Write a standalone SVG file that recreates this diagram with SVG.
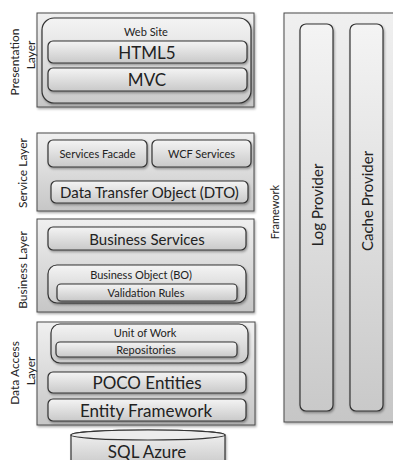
<svg xmlns="http://www.w3.org/2000/svg" width="393" height="460" viewBox="0 0 393 460">
  <defs>
    <linearGradient id="gLayer" x1="0" y1="0" x2="0" y2="1">
      <stop offset="0" stop-color="#f0f0f0"/>
      <stop offset="1" stop-color="#c6c6c6"/>
    </linearGradient>
    <linearGradient id="gBox" x1="0" y1="0" x2="0" y2="1">
      <stop offset="0" stop-color="#f4f4f4"/>
      <stop offset="1" stop-color="#c9c9c9"/>
    </linearGradient>
    <filter id="shadow" x="-10%" y="-10%" width="120%" height="130%">
      <feDropShadow dx="1" dy="1.5" stdDeviation="1" flood-color="#000" flood-opacity="0.35"/>
    </filter>
    <style>
      .layer { fill: url(#gLayer); stroke: #4a4a4a; stroke-width: 1; filter: url(#shadow); }
      .box { fill: url(#gBox); stroke: #333; stroke-width: 1.2; filter: url(#shadow); }
      text { font-family: Lato, "Open Sans", "Liberation Sans", sans-serif; fill: #222; text-anchor: middle; dominant-baseline: central; }
      .side { font-size: 12px; }
      .big { font-size: 17px; }
      .mid { font-size: 15px; }
      .sm { font-size: 11px; }
    </style>
  </defs>

  <!-- Presentation layer -->
  <g id="presentation-layer">
    <rect class="layer" x="37" y="13" width="217" height="94"/>
    <text class="side" transform="translate(14,62) rotate(-90)">Presentation</text>
    <text class="side" transform="translate(30,55) rotate(-90)">Layer</text>
  </g>
  <g id="web-site">
    <rect class="box" x="42" y="18" width="209" height="85" rx="12"/>
    <text class="sm" x="146" y="31">Web Site</text>
  </g>
  <g id="html5">
    <rect class="box" x="48" y="41" width="199" height="22" rx="5"/>
    <text class="big" x="147" y="52">HTML5</text>
  </g>
  <g id="mvc">
    <rect class="box" x="48" y="68" width="199" height="23" rx="5"/>
    <text class="big" x="147" y="79.5">MVC</text>
  </g>

  <!-- Service layer -->
  <g id="service-layer">
    <rect class="layer" x="37" y="133" width="217" height="78"/>
    <text class="side" transform="translate(22,173) rotate(-90)">Service Layer</text>
  </g>
  <g id="services-facade">
    <rect class="box" x="48" y="140" width="99" height="27" rx="5"/>
    <text class="sm" x="97.5" y="153.5">Services Facade</text>
  </g>
  <g id="wcf-services">
    <rect class="box" x="152" y="140" width="99" height="27" rx="5"/>
    <text class="sm" x="201.5" y="153.5">WCF Services</text>
  </g>
  <g id="dto">
    <rect class="box" x="51" y="181" width="197" height="22" rx="5"/>
    <text class="mid" x="149.5" y="192">Data Transfer Object (DTO)</text>
  </g>

  <!-- Business layer -->
  <g id="business-layer">
    <rect class="layer" x="37" y="219" width="217" height="93"/>
    <text class="side" transform="translate(22,270) rotate(-90)">Business Layer</text>
  </g>
  <g id="business-services">
    <rect class="box" x="48" y="227" width="198" height="23" rx="5"/>
    <text class="mid" x="147" y="238.5">Business Services</text>
  </g>
  <g id="business-object">
    <rect class="box" x="48" y="265" width="198" height="38" rx="9"/>
    <text class="sm" x="141" y="274">Business Object (BO)</text>
  </g>
  <g id="validation-rules">
    <rect class="box" x="57" y="284" width="180" height="17" rx="4"/>
    <text class="sm" x="146" y="292.5">Validation Rules</text>
  </g>

  <!-- Data access layer -->
  <g id="data-access-layer">
    <rect class="layer" x="37" y="322" width="218" height="103"/>
    <text class="side" transform="translate(14,373) rotate(-90)">Data Access</text>
    <text class="side" transform="translate(30,371) rotate(-90)">Layer</text>
  </g>
  <g id="unit-of-work">
    <rect class="box" x="51" y="324" width="197" height="39" rx="9"/>
    <text class="sm" x="145" y="332">Unit of Work</text>
  </g>
  <g id="repositories">
    <rect class="box" x="56" y="342" width="181" height="15" rx="4"/>
    <text class="sm" x="146" y="349.5">Repositories</text>
  </g>
  <g id="poco-entities">
    <rect class="box" x="48" y="372" width="198" height="21" rx="5"/>
    <text class="big" x="147" y="382.5">POCO Entities</text>
  </g>
  <g id="entity-framework">
    <rect class="box" x="48" y="399" width="198" height="22" rx="5"/>
    <text class="big" x="146" y="410">Entity Framework</text>
  </g>

  <!-- Database -->
  <g id="sql-azure">
    <path class="box" d="M71,435 A77,5 0 0 1 225,435 L225,466 L71,466 Z"/>
    <ellipse cx="148" cy="435" rx="77" ry="5" fill="#ececec" stroke="#333" stroke-width="1.2"/>
    <text class="big" x="147" y="451">SQL Azure</text>
  </g>

  <!-- Cross-cutting framework -->
  <g id="framework">
    <rect class="layer" x="284" y="13" width="130" height="409"/>
    <text class="sm" transform="translate(274,212) rotate(-90)">Framework</text>
  </g>
  <g id="log-provider">
    <rect class="box" x="300" y="24" width="33" height="387" rx="6"/>
    <text class="mid" transform="translate(317,205) rotate(-90)">Log Provider</text>
  </g>
  <g id="cache-provider">
    <rect class="box" x="350" y="24" width="33" height="387" rx="6"/>
    <text class="mid" transform="translate(367,201) rotate(-90)">Cache Provider</text>
  </g>

  <g id="connectors"/>
</svg>
